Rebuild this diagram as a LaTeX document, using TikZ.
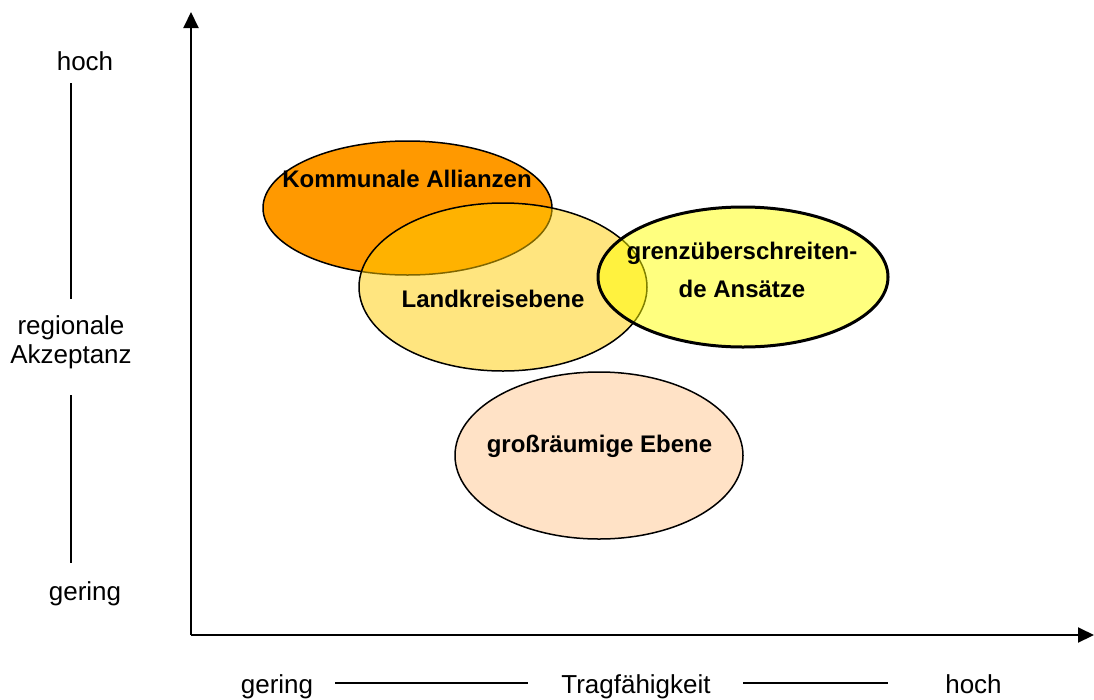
\documentclass[tikz,border=0pt]{standalone}
\usepackage{fontspec}
\setmainfont{Liberation Sans}
\usetikzlibrary{arrows.meta,shapes.geometric}

\definecolor{kommorange}{HTML}{FF9900}
\definecolor{kreisgold}{HTML}{FFCC00}
\definecolor{grenzgelb}{HTML}{FFFF00}
\definecolor{raumpfirsich}{HTML}{FFE2C6}

\tikzset{
  axis/.style={line width=2pt, -{Triangle[length=16pt,width=15pt]}},
  scaleline/.style={line width=1.5pt},
  field/.style={ellipse, draw=black, line width=1.5pt, inner sep=0pt},
  fieldlabel/.style={font=\fontsize{24}{38}\selectfont\bfseries, anchor=base, align=center},
  axislabel/.style={font=\fontsize{26}{29}\selectfont, align=center}
}

\begin{document}
\begin{tikzpicture}[x=1pt, y=-1pt]
  \useasboundingbox[fill=white] (0,0) rectangle (1094,699);

  % axes
  \coordinate (origin) at (191,635);
  \coordinate (ytop) at (191,12);
  \coordinate (xend) at (1094,635);
  \draw[axis] (origin) -- (ytop);
  \draw[axis] (origin) -- (xend);

  % fields of the four cooperation levels
  \node[field, fill=kommorange, minimum width=289pt, minimum height=134pt] (komm) at (407.5,208) {};
  \node[field, fill=kreisgold, fill opacity=0.5, draw opacity=1, minimum width=288pt, minimum height=168pt] (kreis) at (503,287) {};
  \node[field, fill=grenzgelb, fill opacity=0.5, draw opacity=1, line width=3pt, minimum width=290pt, minimum height=140pt] (grenz) at (743,277) {};
  \node[field, fill=raumpfirsich, minimum width=288pt, minimum height=167pt] (raum) at (599,455.5) {};

  \node[fieldlabel] (kommtext) at (407,187) {Kommunale Allianzen};
  \node[fieldlabel] (kreistext) at (493,307) {Landkreisebene};
  \node[fieldlabel, anchor=center] (grenztext) at (742,269.5) {grenzüberschreiten-\\de Ansätze};
  \node[fieldlabel] (raumtext) at (599.5,452) {großräumige Ebene};

  % vertical scale: regionale Akzeptanz
  \node[axislabel, anchor=base] (yhoch) at (85,70) {hoch};
  \node[axislabel] (yname) at (71,342) {regionale\\Akzeptanz};
  \node[axislabel, anchor=base] (ygering) at (85,600) {gering};
  \coordinate (ya) at (71,83);
  \coordinate (yb) at (71,299);
  \coordinate (yc) at (71,395);
  \coordinate (yd) at (71,563);
  \draw[scaleline] (ya) -- (yb);
  \draw[scaleline] (yc) -- (yd);

  % horizontal scale: Tragfähigkeit
  \node[axislabel, anchor=base] (xgering) at (277,693) {gering};
  \node[axislabel, anchor=base] (xname) at (636,693) {Tragfähigkeit};
  \node[axislabel, anchor=base] (xhoch) at (973.5,693) {hoch};
  \coordinate (xa) at (335,683);
  \coordinate (xb) at (528,683);
  \coordinate (xc) at (743,683);
  \coordinate (xd) at (888,683);
  \draw[scaleline] (xa) -- (xb);
  \draw[scaleline] (xc) -- (xd);
\end{tikzpicture}
\end{document}
